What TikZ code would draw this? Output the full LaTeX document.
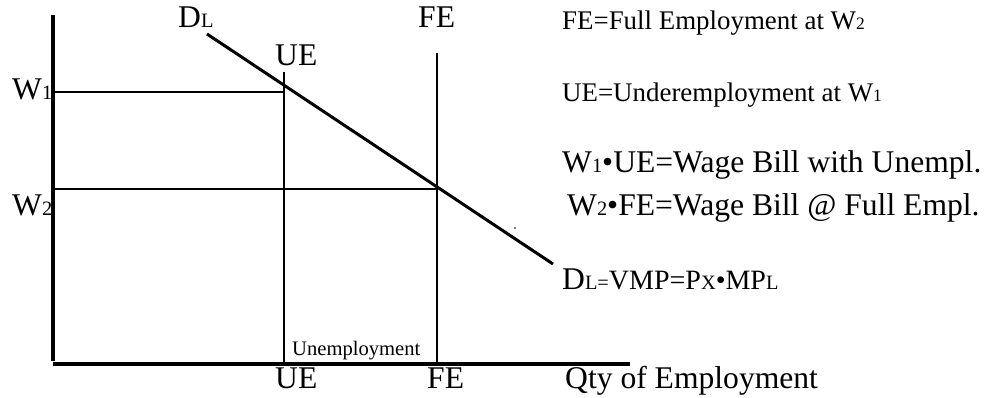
\documentclass[tikz,border=0pt]{standalone}
\usepackage{fontspec}
\setmainfont{Liberation Serif}
\usetikzlibrary{positioning}
\newcommand{\lowr}[2][20.4]{{\fontsize{#1}{#1}\selectfont #2}}

\begin{document}
\begin{tikzpicture}[x=1pt,y=-1pt,
  big/.style={font=\fontsize{31.6}{31.6}\selectfont,inner sep=0pt,anchor=base west},
  mid/.style={font=\fontsize{26.9}{26.9}\selectfont,inner sep=0pt,anchor=base west},
  sml/.style={font=\fontsize{20.6}{20.6}\selectfont,inner sep=0pt,anchor=base west},
  axis/.style={line width=4.5pt},
  guide/.style={line width=1.5pt},
  demand/.style={line width=3pt}]
\useasboundingbox (0,0) rectangle (993,398);
% axes
\coordinate (ytop) at (53,15);
\coordinate (ybot) at (53,361);
\coordinate (xl) at (53,364);
\coordinate (xr) at (630,364);
\draw[axis] (ytop) -- (ybot);
\draw[axis] (xl) -- (xr);
% wage and employment levels
\coordinate (w1) at (53,92);   \coordinate (ue) at (284,92);
\coordinate (w2) at (53,189);  \coordinate (fe) at (437,189);
\coordinate (uetop) at (284,72);  \coordinate (uebot) at (284,362);
\coordinate (fetop) at (437,53);  \coordinate (febot) at (437,362);
\draw[guide] (w1) -- (ue);
\draw[guide] (w2) -- (fe);
\draw[guide] (uetop) -- (uebot);
\draw[guide] (fetop) -- (febot);
% labour demand
\coordinate (dl1) at (207,34);
\coordinate (dl2) at (553,264);
\draw[demand] (dl1) -- (dl2);
\fill (515,228) circle (0.8);
% labels on the graph
\node[big] (ldl) at (178,28) {D\lowr{L}};
\node[big] (lfetop) at (418,28) {FE};
\node[big] (luetop) at (275,66) {UE};
\node[big] (lw1) at (12,100) {W\lowr{1}};
\node[big] (lw2) at (12,215) {W\lowr{2}};
\node[sml] (lunemp) at (292,355) {Unemployment};
\node[big] (luebot) at (275,388) {UE};
\node[big] (lfebot) at (427,388) {FE};
\node[big] (lqty) at (565,388) {Qty of Employment};
% notes
\node[mid] (nfe) at (562,30) {FE=Full Employment at W\lowr[17.4]{2}};
\node[mid] (nue) at (562,102) {UE=Underemployment at W\lowr[17.4]{1}};
\node[big] (bill1) at (562,173) {W\lowr{1}\textbullet UE=Wage Bill with Unempl.};
\node[big] (bill2) at (567,215) {W\lowr{2}\textbullet FE=Wage Bill @ Full Empl.};
\node[big] (vmp) at (562,289) {D\lowr{L=}\fontsize{28}{28}\selectfont VMP=P\lowr{X}\textbullet MP\lowr{L}};
\end{tikzpicture}
\end{document}
